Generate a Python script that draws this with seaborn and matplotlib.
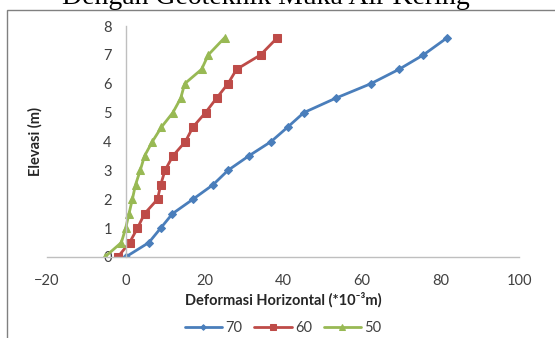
import matplotlib
matplotlib.use("Agg")
import matplotlib.pyplot as plt
import seaborn as sns
import pandas as pd
from matplotlib.patches import Rectangle

# Data
elevasi = [0, 0.5, 1, 1.5, 2, 2.5, 3, 3.5, 4, 4.5, 5, 5.5, 6, 6.5, 7, 7.6]
def_70 = [0, 5.9, 8.9, 11.9, 17.1, 22.2, 26.0, 31.3, 37.0, 41.2, 45.3, 53.4, 62.3, 69.5, 75.7, 81.8]
def_60 = [-2.0, 1.0, 3.0, 4.8, 8.1, 8.9, 10.0, 12.0, 15.2, 17.1, 20.3, 23.1, 26.0, 28.2, 34.3, 38.6]
def_50 = [-5.3, -1.1, 0.0, 0.85, 1.7, 2.5, 3.7, 4.8, 6.8, 9.1, 12.0, 14.0, 15.0, 19.3, 21.0, 25.2]
series_names = ["70", "60", "50"]
x_ticks = [-20, 0, 20, 40, 60, 80, 100]
y_ticks = [0, 1, 2, 3, 4, 5, 6, 7, 8]

sns.set_theme(style="white")
plt.rcParams['font.family'] = ['Lato', 'DejaVu Sans']

fig = plt.figure(figsize=(5.55, 3.38), dpi=100)
ax = fig.add_axes([47/555, 1-257/338, (519-47)/555, (257-26)/338])

colors = ["#4A7EBB", "#BE4B48", "#98B954"]
markers = ["D", "s", "^"]
msizes = [3.8, 5.5, 5.5]
for name, xs, c, m, ms in zip(series_names, [def_70, def_60, def_50], colors, markers, msizes):
    df = pd.DataFrame({"x": xs, "y": elevasi})
    sns.lineplot(data=df, x="x", y="y", sort=False, ax=ax, color=c, marker=m,
                 markersize=ms, markeredgecolor=c, linewidth=2.0, label=name)

ax.set_xlim(-20, 100)
ax.set_ylim(0, 8)
ax.set_xticks(x_ticks)
ax.set_yticks(y_ticks)
ax.spines['left'].set_position(('data', 0))
ax.spines['bottom'].set_position(('data', 0))
for s in ['top', 'right']:
    ax.spines[s].set_visible(False)
for s in ['left', 'bottom']:
    ax.spines[s].set_color('#BFBFBF')
    ax.spines[s].set_linewidth(1)
ax.tick_params(axis='both', length=0, labelsize=10.5, colors='#404040')
ax.tick_params(axis='x', pad=12)
ax.tick_params(axis='y', pad=10)
ax.set_xlabel("Deformasi Horizontal (*10\u207b\u00b3m)", fontsize=10.5, fontweight='bold', color='#262626')
ax.set_ylabel("Elevasi (m)", fontsize=10.5, fontweight='bold', color='#262626')
ax.xaxis.set_label_coords(0.5, (257-292)/231)
ax.yaxis.set_label_coords((43-47)/472, 0.5)

leg = ax.legend(loc='upper center', bbox_to_anchor=(0.5, (257-311)/231), ncol=3, frameon=False,
                fontsize=10.5, handlelength=2.6, columnspacing=0.8, handletextpad=0.2,
                labelcolor='#404040', borderpad=0.2, markerscale=0.75)

# Title (partially cut off at the top)
fig.text(266/555, 1-3.5/338, "Dengan Geoteknik Muka Air Kering", ha='center', va='baseline',
         fontsize=20, family='Liberation Serif', color='black')

# Chart frame
fig.add_artist(Rectangle((7/555, -0.1), 1.2, 1.1 - 10/338, transform=fig.transFigure,
                         fill=False, edgecolor='#808080', linewidth=1))

fig.savefig("out.png", dpi=100)
